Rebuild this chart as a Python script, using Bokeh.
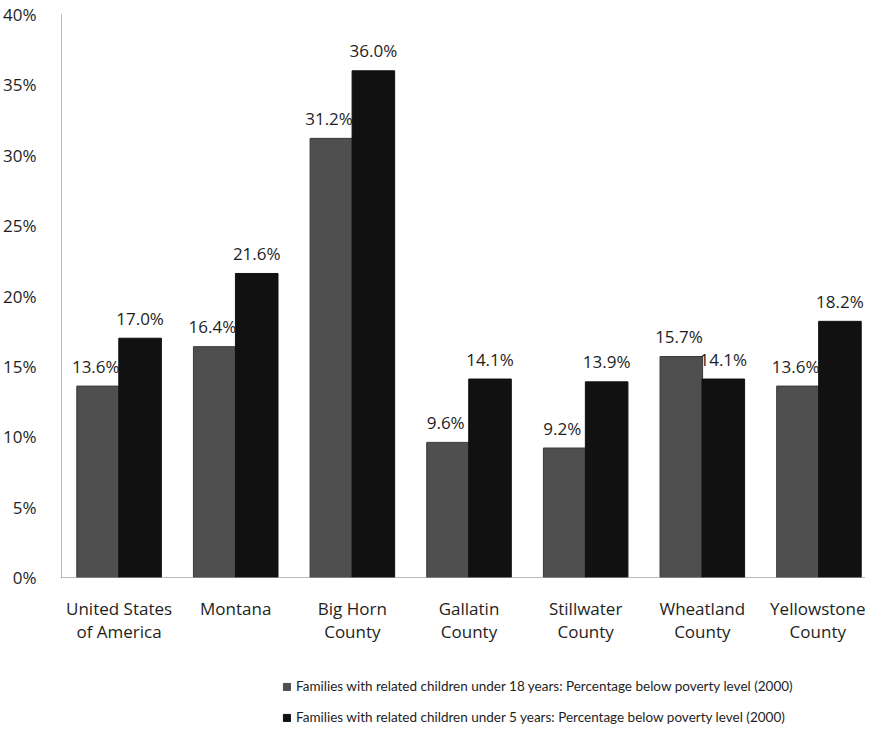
from bokeh.plotting import figure
from bokeh.layouts import column
from bokeh.models import (ColumnDataSource, FixedTicker, PrintfTickFormatter, Range1d,
                          Legend, LegendItem)
from bokeh.transform import dodge
from bokeh.core.properties import value
from bokeh.embed import file_html
from bokeh.resources import INLINE

categories = ["United States\nof America", "Montana", "Big Horn\nCounty", "Gallatin\nCounty",
              "Stillwater\nCounty", "Wheatland\nCounty", "Yellowstone\nCounty"]
under18 = [13.6, 16.4, 31.2, 9.6, 9.2, 15.7, 13.6]
under5 = [17.0, 21.6, 36.0, 14.1, 13.9, 14.1, 18.2]
y_ticks = [0, 5, 10, 15, 20, 25, 30, 35, 40]
series_names = ["Families with related children under 18 years: Percentage below poverty level (2000)",
                "Families with related children under 5 years: Percentage below poverty level (2000)"]
colors = ["#4f4f4f", "#111111"]

FONT = "Open Sans"
LFONT = "Lato"
TXT = "#1e1e1e"
FS = "17px"
src = ColumnDataSource(dict(
    x=list(range(len(categories))),
    a=under18, b=under5,
    la=[f"{v:.1f}%" for v in under18],
    lb=[f"{v:.1f}%" for v in under5],
))

p = figure(width=865, height=657, output_backend="svg", toolbar_location=None,
           x_range=Range1d(-0.4936, 6.399), y_range=Range1d(0, 40),
           min_border_left=55, min_border_top=14, min_border_right=0, min_border_bottom=80)
p.outline_line_color = None
p.xgrid.visible = False
p.ygrid.visible = False

bw = 0.365
ga = p.vbar(x=dodge("x", -0.18, range=p.x_range), top="a", width=bw, bottom=0, source=src,
            fill_color=colors[0], line_color="#3a3a3a", line_width=1)
gb = p.vbar(x=dodge("x", 0.18, range=p.x_range), top="b", width=bw, bottom=0, source=src,
            fill_color=colors[1], line_color=colors[1], line_width=1)

p.text(x=dodge("x", -0.2, range=p.x_range), y="a", text="la", source=src,
       text_align="center", text_baseline="middle", y_offset=-20,
       text_font=value(FONT), text_font_size=FS, text_color=TXT)
p.text(x=dodge("x", 0.18, range=p.x_range), y="b", text="lb", source=src,
       text_align="center", text_baseline="middle", y_offset=-20,
       text_font=value(FONT), text_font_size=FS, text_color=TXT)

p.yaxis.ticker = FixedTicker(ticks=y_ticks)
p.yaxis.formatter = PrintfTickFormatter(format="%d%%")
p.yaxis.major_tick_line_color = None
p.yaxis.minor_tick_line_color = None
p.yaxis.major_label_standoff = 19
p.yaxis.axis_line_color = "#777777"
p.yaxis.axis_line_dash = "1 1"
p.yaxis.major_label_text_font = FONT
p.yaxis.major_label_text_font_size = FS
p.yaxis.major_label_text_color = TXT

p.xaxis.ticker = FixedTicker(ticks=list(range(len(categories))))
p.xaxis.major_label_overrides = {i: c for i, c in enumerate(categories)}
p.xaxis.major_tick_line_color = None
p.xaxis.minor_tick_line_color = None
p.xaxis.major_label_standoff = 13
p.xaxis.axis_line_color = "#777777"
p.xaxis.axis_line_dash = "1 1"
p.xaxis.major_label_text_font = FONT
p.xaxis.major_label_text_font_size = FS
p.xaxis.major_label_text_line_height = 1.03
p.xaxis.major_label_text_color = TXT

# legend panel below
q = figure(width=865, height=69, output_backend="svg", toolbar_location=None,
           x_range=Range1d(0, 1), y_range=Range1d(0, 1),
           min_border=0, x_axis_location=None, y_axis_location=None)
q.outline_line_color = None
q.xgrid.visible = False
q.ygrid.visible = False
r1 = q.rect(x=[-10], y=[-10], width=0.1, height=0.1, fill_color=colors[0], line_color=colors[0])
r2 = q.rect(x=[-10], y=[-10], width=0.1, height=0.1, fill_color=colors[1], line_color=colors[1])
legend = Legend(items=[LegendItem(label=series_names[0], renderers=[r1]),
                       LegendItem(label=series_names[1], renderers=[r2])],
                orientation="vertical", location=(221, 1),
                border_line_color=None, background_fill_alpha=0,
                label_text_font=LFONT, label_text_font_size="13.5px", label_text_color=TXT,
                glyph_width=9, glyph_height=9, spacing=15, padding=0, margin=0,
                label_standoff=5)
q.add_layout(legend, "center")

layout = column(p, q, spacing=0)
open("out.html", "w").write(file_html(layout, INLINE))
